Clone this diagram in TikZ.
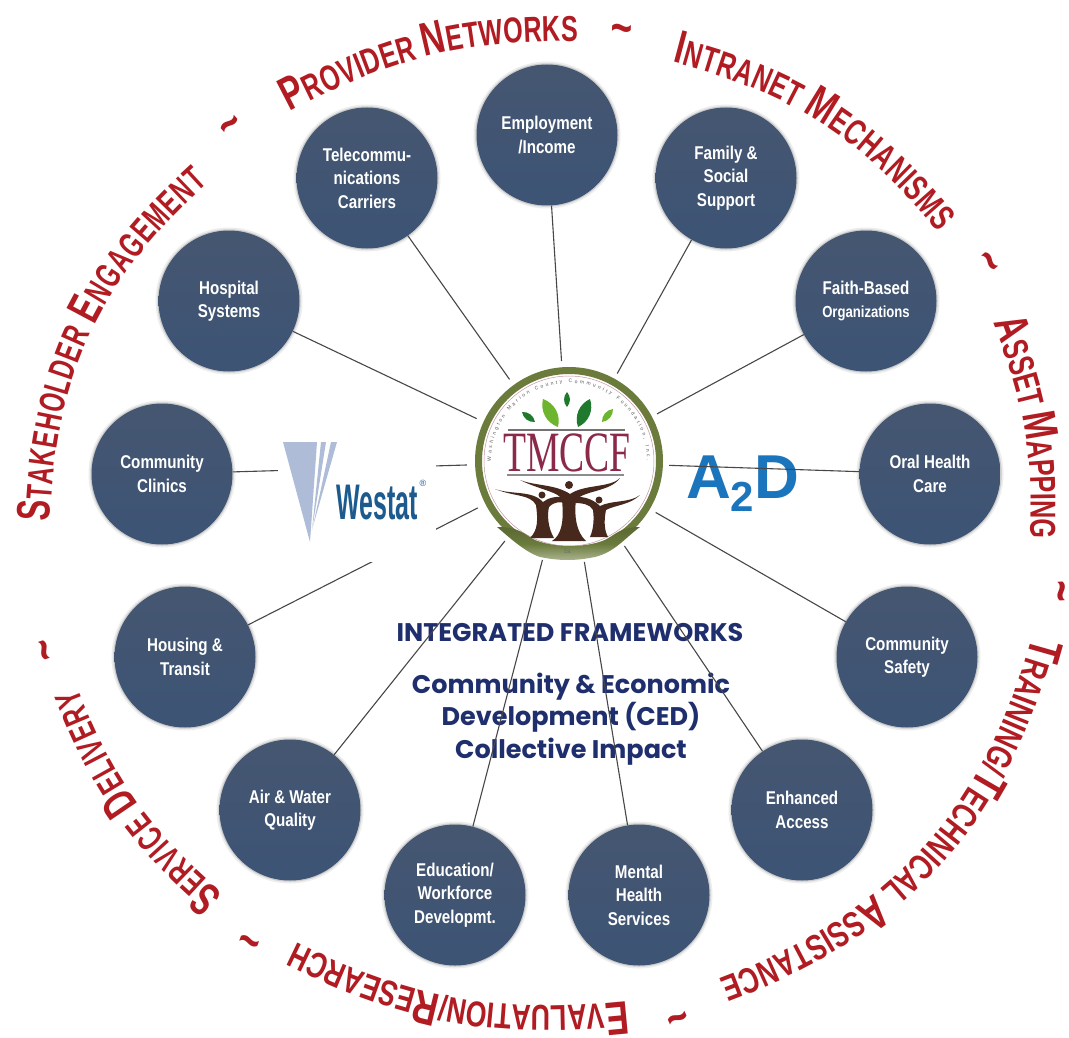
\documentclass[tikz,border=0pt]{standalone}
\usepackage{fontspec}
\usetikzlibrary{decorations.text,shapes.geometric,calc}
\newfontfamily\nodef[FakeStretch=0.82]{Liberation Sans}
\newfontfamily\rfa[FakeStretch=0.66]{Liberation Sans}
\newfontfamily\rfb[FakeStretch=0.70]{Liberation Sans}
\newfontfamily\rfc[FakeStretch=0.74]{Liberation Sans}
\newfontfamily\westf[FakeStretch=0.5]{Liberation Sans}
\newfontfamily\aad{Liberation Sans}
\newfontfamily\geo{Poppins}
\newfontfamily\logof[FakeStretch=0.66]{Liberation Serif}
\newcommand{\CapA}{\color{redc}\rfa\bfseries\fontsize{47}{47}\selectfont}
\newcommand{\SmA}{\color{redc}\rfa\bfseries\fontsize{36}{36}\selectfont}
\newcommand{\CapB}{\color{redc}\rfb\bfseries\fontsize{47}{47}\selectfont}
\newcommand{\SmB}{\color{redc}\rfb\bfseries\fontsize{36}{36}\selectfont}
\newcommand{\CapC}{\color{redc}\rfc\bfseries\fontsize{47}{47}\selectfont}
\newcommand{\SmC}{\color{redc}\rfc\bfseries\fontsize{36}{36}\selectfont}
\definecolor{redc}{HTML}{B01C22}
\definecolor{disc}{HTML}{455670}
\definecolor{discb}{HTML}{3D5475}
\definecolor{navyc}{HTML}{1F2F6E}
\definecolor{olivec}{HTML}{6B7B3C}
\definecolor{bark}{HTML}{46281C}
\definecolor{leafd}{HTML}{1F7A2E}
\definecolor{leafl}{HTML}{6DB52E}
\definecolor{maroonc}{HTML}{8A2A48}
\definecolor{aadblue}{HTML}{1B75BC}
\definecolor{wblue}{HTML}{1D5A8E}
\definecolor{wtri}{HTML}{AEBCD8}
\tikzset{
  x=1pt,y=-1pt,
  disc/.style={circle,minimum size=141pt,inner sep=0pt,top color=disc,bottom color=discb,text=white,
    align=center,font=\nodef\fontsize{18.5}{23.5}\selectfont\bfseries},
  haloa/.style={circle,fill=black!7,minimum size=147pt,inner sep=0pt},
  halob/.style={circle,fill=black!20,minimum size=143.5pt,inner sep=0pt},
  link/.style={draw=black!72,line width=1.1pt},
  arcword/.style={decorate,decoration={text along path,text align=fit to path}},
  tilde/.style={font=\rfc\bfseries\fontsize{50}{50}\selectfont,text=redc,inner sep=0pt},
}
\begin{document}
\begin{tikzpicture}
\useasboundingbox[fill=white] (0,0) rectangle (1069,1038);

% central captions and A2D lie under the connectors
\node[font=\geo\bfseries\fontsize{25.5}{25.5}\selectfont,text=navyc,inner sep=0pt] (frames) at (570,633) {INTEGRATED FRAMEWORKS};
\node[font=\geo\bfseries\fontsize{25.5}{32.5}\selectfont,text=navyc,align=center,inner sep=0pt] (ced) at (571,719) {Community \& Economic\\Development (CED)\\Collective Impact};
\node[font=\aad\bfseries\fontsize{62}{62}\selectfont,text=aadblue,inner sep=0pt,anchor=base west] (aad) at (686,498) {A\raisebox{-13pt}{\fontsize{42}{42}\selectfont 2}D};

% hubs
\node[circle,minimum size=202pt,inner sep=0pt] (logo) at (568,462) {};
\foreach \xx/\yy in {547/135,726/178,866/301,930/474,907/657,802/810,639/895,455/895,290/810,185/657,162/474,229/301,367/178}
  {\node[haloa] at (\xx,\yy) {}; \node[halob] at (\xx,\yy) {};}
\node[disc] (emp) at (547,135) {Employment\\/Income};
\node[disc] (fam) at (726,178) {Family \&\\Social\\Support};
\node[disc] (fai) at (866,301) {Faith-Based\\{\fontsize{16}{23.5}\selectfont Organizations}};
\node[disc] (ora) at (930,474) {Oral Health\\Care};
\node[disc] (saf) at (907,657) {Community\\Safety};
\node[disc] (enh) at (802,810) {Enhanced\\Access};
\node[disc] (men) at (639,895) {Mental\\Health\\Services};
\node[disc] (edu) at (455,895) {Education/\\Workforce\\Developmt.};
\node[disc] (air) at (290,810) {Air \& Water\\Quality};
\node[disc] (hou) at (185,657) {Housing \&\\Transit};
\node[disc] (cli) at (162,474) {Community\\Clinics};
\node[disc] (hos) at (229,301) {Hospital\\Systems};
\node[disc] (tel) at (367,178) {Telecommu-\\nications\\Carriers};

% connectors
\foreach \n in {emp,fam,fai,ora,saf,enh,men,edu,air,hou,cli,hos,tel}
  \draw[link] (\n) -- (logo);

% Westat logo on white ground, hiding the connectors behind it
\fill[white] (278,440) rectangle (436,562);
\fill[wtri] (283,442) -- (317,442) -- (310,542) -- cycle;
\fill[wtri] (321,442) -- (326,442) -- (312,530) -- cycle;
\fill[wtri] (331,442) -- (337,442) -- (313,526) -- cycle;
\node[font=\westf\bfseries\fontsize{50}{50}\selectfont,text=wblue,inner sep=0pt,anchor=base west] (westat) at (336,519) {Westat};
\node[font=\aad\fontsize{9}{9}\selectfont,text=wblue,inner sep=0pt] (reg) at (423,483) {®};

% TMCCF emblem
\fill[white] (569,461) circle (97pt);
\draw[olivec,line width=7pt] (569,461) circle (90.5pt);
\draw[maroonc!50,line width=0.5pt] (569,461) circle (85pt);
\path[decorate,decoration={text along path,text align=fit to path,
  text={|\aad\fontsize{5}{5}\selectfont\color{black!65}|Washington Marion County Community Foundation, Inc.}}]
  (491,461) arc[start angle=180,end angle=0,radius=78pt];
\foreach \ax/\ay/\bx/\by/\cc in {522/412/535/422/leafd,543/399/558/427/leafl,567/392/567/407/leafd,590/399/578/427/leafd,613/409/602/422/leafl}
  \fill[\cc] (\ax,\ay) to[bend left=42] (\bx,\by) to[bend left=42] (\ax,\ay);
\draw[black!55,line width=1.2pt] (508,430) -- (625,430);
\draw[black!45,line width=1.2pt] (507,475) -- (624,475);
\node[font=\logof\fontsize{57}{57}\selectfont,text=maroonc,inner sep=0pt] (tm) at (567,453) {TMCCF};
% tree figures
\fill[bark] (520,480) .. controls (540,490) and (560,492) .. (562,500) .. controls (564,520) and (562,535) .. (552,541) -- (586,541)
   .. controls (576,532) and (574,515) .. (576,500) .. controls (585,490) and (610,492) .. (620,478)
   .. controls (610,488) and (585,484) .. (570,494) .. controls (555,484) and (535,486) .. (520,480) -- cycle;
\fill[bark] (569,485) circle (4pt);
\fill[bark] (542,495) circle (3.5pt);
\fill[bark] (599,500) circle (3.5pt);
\fill[bark] (495,489) .. controls (515,497) and (530,494) .. (536,505) .. controls (538,520) and (538,530) .. (530,538) -- (554,538)
   .. controls (548,528) and (547,515) .. (549,507) .. controls (555,501) and (560,502) .. (566,503) -- (566,497)
   .. controls (555,496) and (548,498) .. (543,502) .. controls (532,490) and (512,495) .. (495,489) -- cycle;
\fill[bark] (640,495) .. controls (630,505) and (615,505) .. (606,510) .. controls (604,520) and (604,530) .. (608,537) -- (590,537)
   .. controls (594,528) and (594,518) .. (593,510) .. controls (590,504) and (582,503) .. (574,503) -- (574,497)
   .. controls (585,496) and (594,500) .. (600,506) .. controls (612,500) and (630,503) .. (640,495) -- cycle;
% ribbon
\shade[top color=olivec!85!black,bottom color=olivec!55!white,middle color=olivec]
   (497,527) .. controls (520,527) and (525,535) .. (535,540) .. controls (555,548) and (585,548) .. (605,540)
   .. controls (615,535) and (620,527) .. (640,527) .. controls (625,538) and (615,552) .. (595,557)
   .. controls (575,561) and (560,561) .. (540,557) .. controls (525,552) and (510,538) .. (497,527) -- cycle;
\node[font=\logof\fontsize{7}{7}\selectfont,text=black!60,inner sep=0pt] (est) at (568,551) {Est.};

% outer ring of words
\path[arcword,decoration={text={|\CapA|S|\SmA|TAKEHOLDER |\CapA|E|\SmA|NGAGEMENT}}] (50,522) to[bend left=23] (208,183);
\path[arcword,decoration={text={|\CapB|P|\SmB|ROVIDER |\CapB|N|\SmB|ETWORKS}}] (290,112) to[bend left=14] (578,41);
\path[arcword,decoration={text={|\CapB|I|\SmB|NTRANET |\CapB|M|\SmB|ECHANISMS}}] (672,62) to[bend left=18] (938,232);
\path[arcword,decoration={text={|\CapB|A|\SmB|SSET |\CapB|M|\SmB|APPING}}] (993,323) to[bend left=12] (1030,538);
\path[arcword,decoration={text={|\CapC|T|\SmC|RAINING/|\CapC|T|\SmC|ECHNICAL |\CapC|A|\SmC|SSISTANCE}}] (1032,636) to[bend left=27] (724,977);
\path[arcword,decoration={text={|\CapC|E|\SmC|VALUATION/|\CapC|R|\SmC|ESEARCH}}] (627,1001) to[bend left=16] (298,943);
\path[arcword,decoration={text={|\CapA|S|\SmA|ERVICE |\CapA|D|\SmA|ELIVERY}}] (224,894) to[bend left=14] (78,688);
\node[tilde,rotate=42] (t1) at (234,129) {\textasciitilde};
\node[tilde,rotate=-2] (t2) at (622,35) {\textasciitilde};
\node[tilde,rotate=-50] (t3) at (985,265) {\textasciitilde};
\node[tilde,rotate=-87] (t4) at (1055,592) {\textasciitilde};
\node[tilde,rotate=-155] (t5) at (675,1012) {\textasciitilde};
\node[tilde,rotate=160] (t6) at (252,935) {\textasciitilde};
\node[tilde,rotate=108] (t7) at (50,648) {\textasciitilde};
\end{tikzpicture}
\end{document}
